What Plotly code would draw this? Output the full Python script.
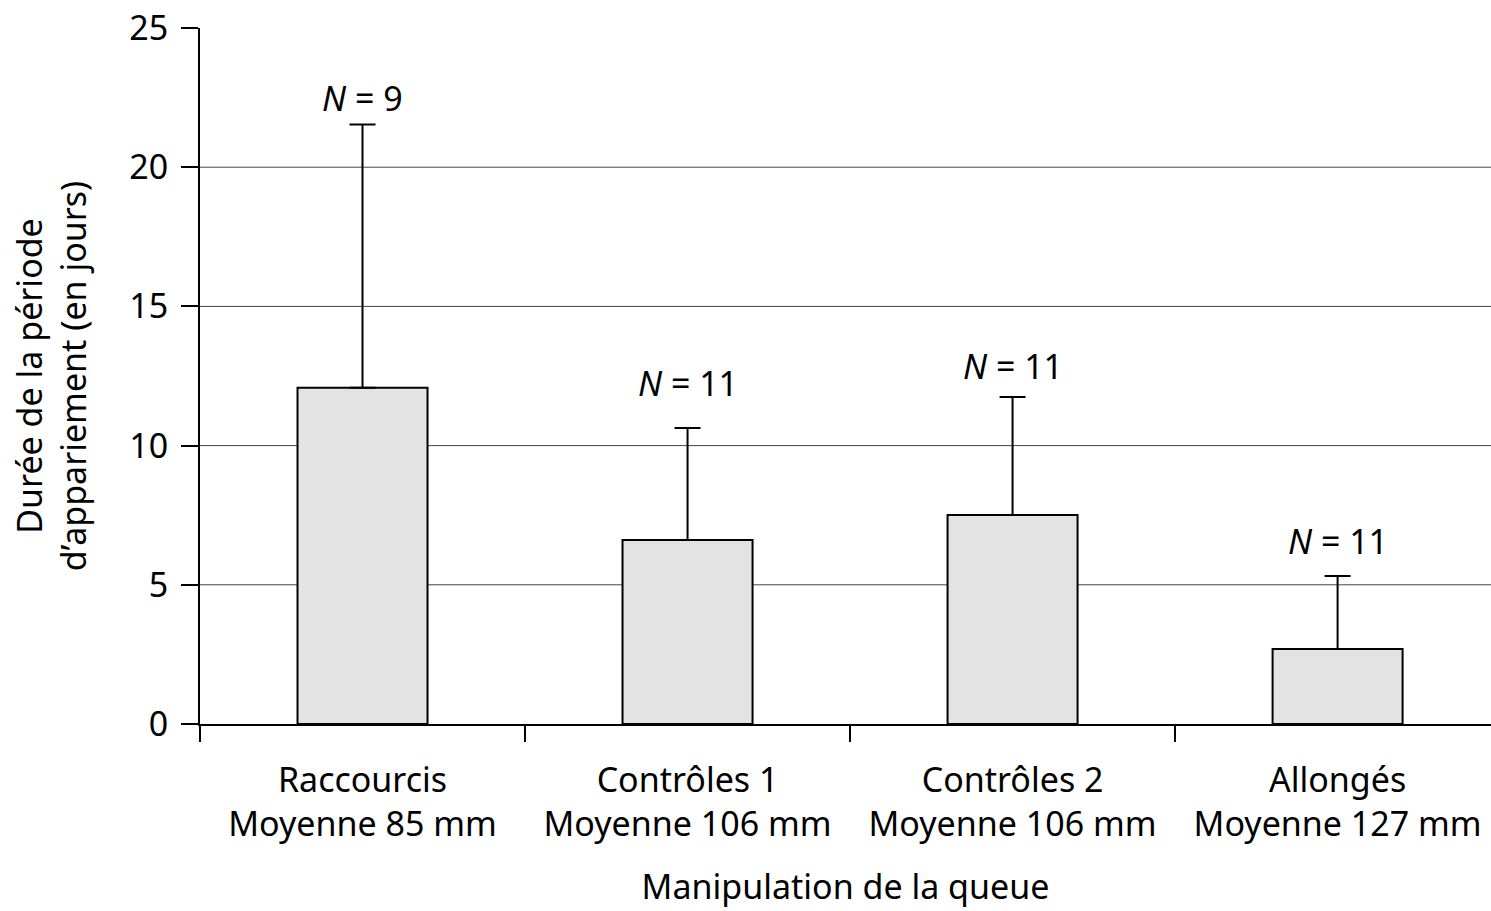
import plotly.graph_objects as go

categories = ["Raccourcis<br>Moyenne 85 mm", "Contrôles 1<br>Moyenne 106 mm",
              "Contrôles 2<br>Moyenne 106 mm", "Allongés<br>Moyenne 127 mm"]
means = [12.08, 6.61, 7.51, 2.69]
upper_err = [9.45, 4.02, 4.24, 2.63]
n_labels = ["<i>N</i> = 9", "<i>N</i> = 11", "<i>N</i> = 11", "<i>N</i> = 11"]
label_y = [22.5, 12.25, 12.86, 6.57]
y_ticks = [0, 5, 10, 15, 20, 25]
grid_vals = [5, 10, 15, 20]

FONT = "Noto Sans"
FS = 34
fig = go.Figure()
fig.add_trace(go.Bar(
    x=categories, y=means, width=0.4,
    marker=dict(color="#e3e3e3", line=dict(color="black", width=2)),
    error_y=dict(type="data", array=upper_err, arrayminus=[0] * len(means),
                 symmetric=False, color="black", thickness=2, width=13),
))

for c, t, yy in zip(categories, n_labels, label_y):
    fig.add_annotation(x=c, y=yy, text=t, showarrow=False,
                       font=dict(family=FONT, size=FS, color="black"))

for g in grid_vals:
    fig.add_shape(type="line", xref="paper", yref="y", x0=0, x1=1, y0=g, y1=g,
                  line=dict(color="#444444", width=1), layer="below")

fig.update_layout(
    width=1491, height=911,
    margin=dict(l=200, r=0, t=28, b=187),
    plot_bgcolor="white", paper_bgcolor="white",
    showlegend=False,
    font=dict(family=FONT, size=FS, color="black"),
)
fig.update_xaxes(
    range=[-0.5, 3.472], tickson="boundaries", ticks="outside", ticklen=16,
    tickwidth=2, tickcolor="black", showline=True, linecolor="black", linewidth=2,
    showgrid=False, tickfont=dict(size=FS), ticklabelstandoff=25,
    title=dict(text="Manipulation de la queue", font=dict(size=FS), standoff=30),
)
fig.update_yaxes(
    range=[0, 25], tickvals=y_ticks, ticks="outside", ticklen=17, tickwidth=2,
    tickcolor="black", showline=True, linecolor="black", linewidth=2,
    showgrid=False, zeroline=False, tickfont=dict(size=FS), ticklabelstandoff=6,
    title=dict(text="Durée de la période<br>d’appariement (en jours)", font=dict(size=FS), standoff=32),
)

fig.write_html("out.html")
